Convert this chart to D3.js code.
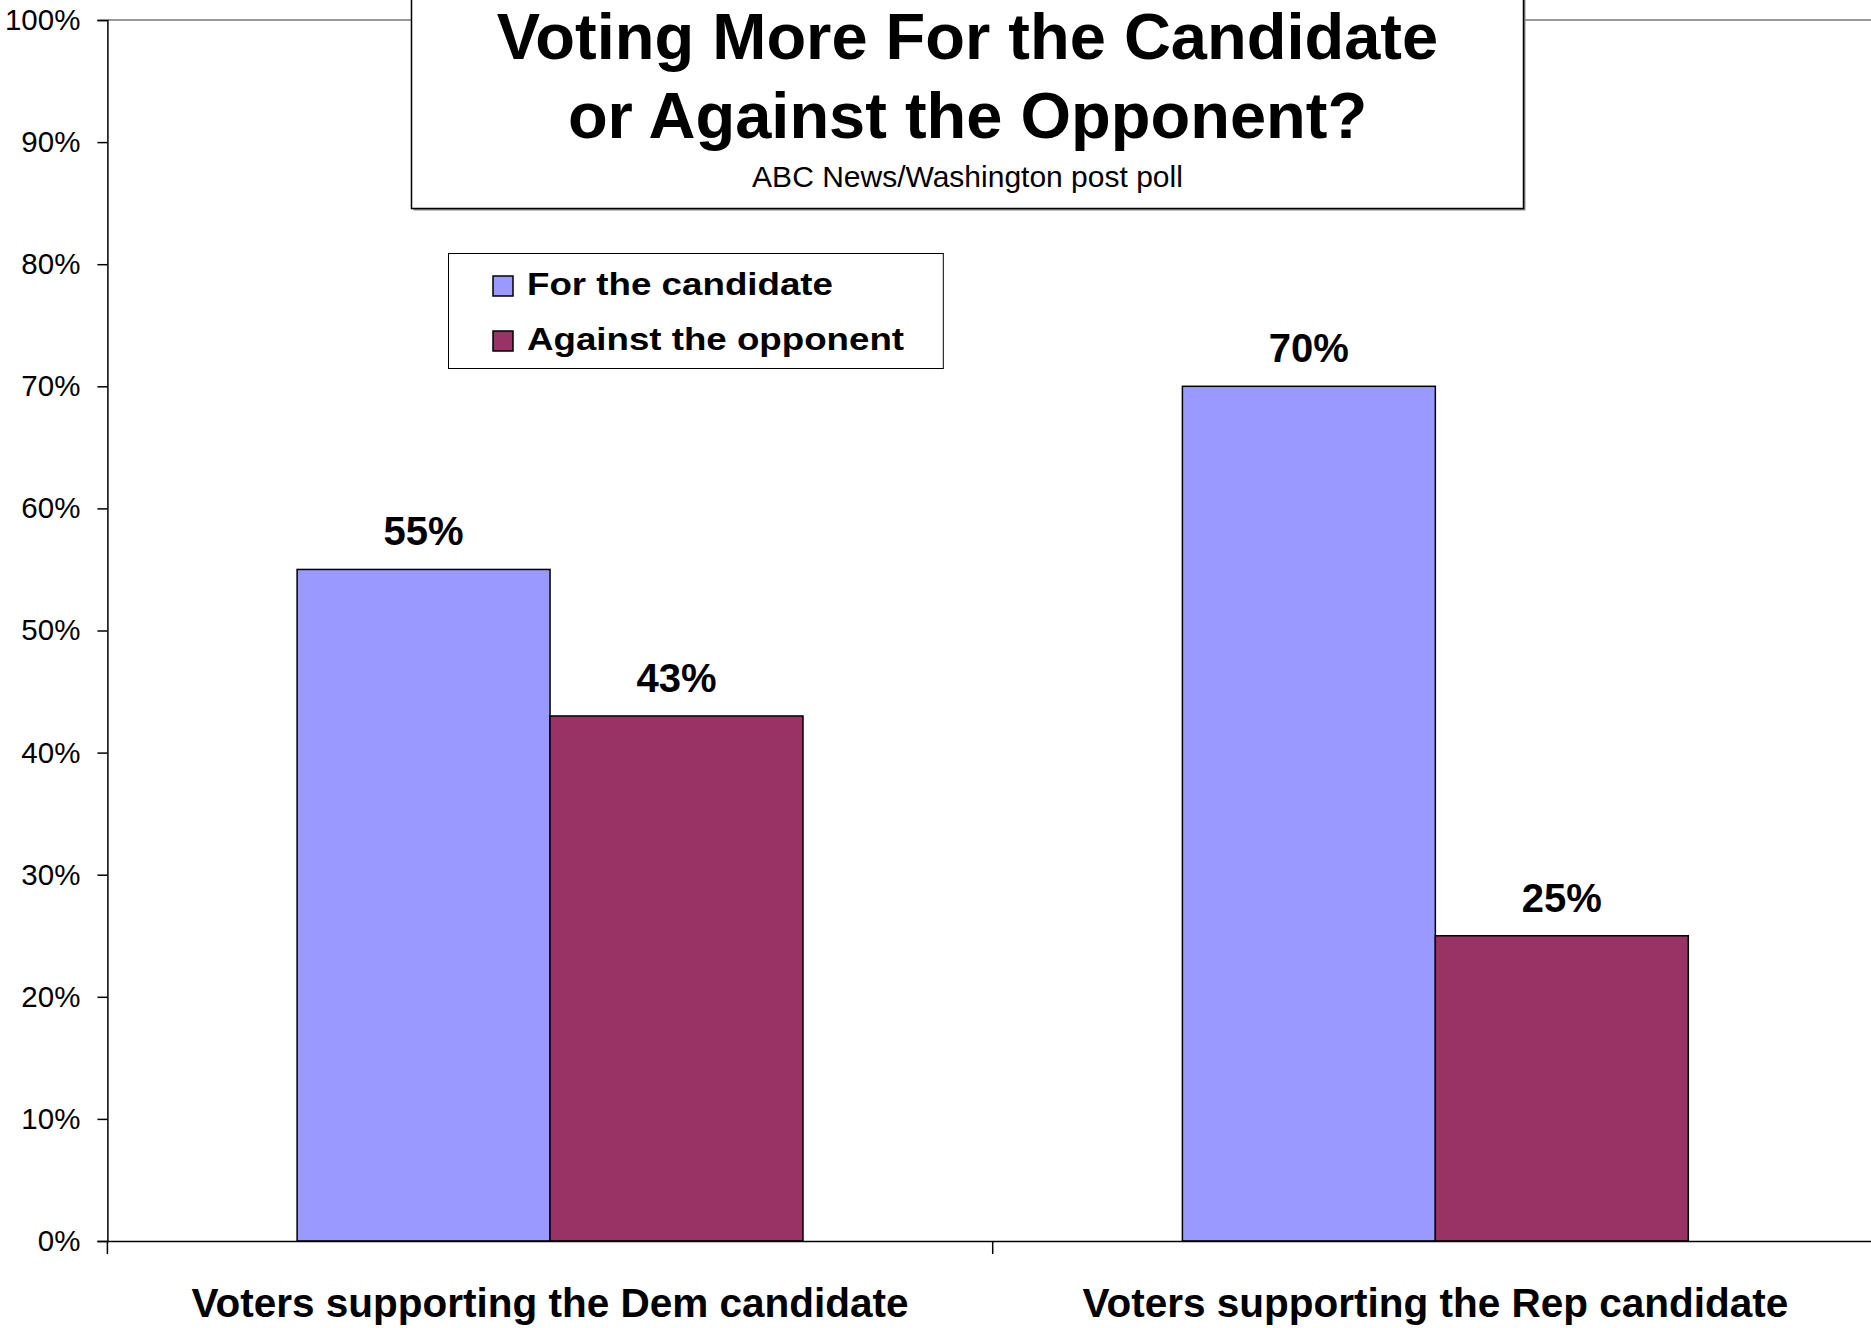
<!DOCTYPE html>
<html>
<head>
<meta charset="utf-8">
<script src="https://cdn.jsdelivr.net/npm/d3@7"></script>
<style>
  html, body { margin: 0; padding: 0; background: #fff; }
  svg { display: block; font-family: "Liberation Sans", Arial, sans-serif; }
</style>
</head>
<body>
<svg id="chart" width="1871" height="1328"></svg>
<script>
// ---- Data ----
const categories = ["Voters supporting the Dem candidate", "Voters supporting the Rep candidate"];
const seriesNames = ["For the candidate", "Against the opponent"];
const forValues = [0.55, 0.70];
const againstValues = [0.43, 0.25];
const yTickValues = [0, 0.1, 0.2, 0.3, 0.4, 0.5, 0.6, 0.7, 0.8, 0.9, 1.0];
const titleLines = ["Voting More For the Candidate", "or Against the Opponent?"];
const subtitle = "ABC News/Washington post poll";
const colors = ["#9999FF", "#993366"];

// ---- Layout ----
const svg = d3.select("#chart");
const plot = { left: 107.4, right: 1878, top: 20, bottom: 1241 };

const x0 = d3.scaleBand().domain(categories).range([plot.left, plot.right]).padding(0);
const x1 = d3.scaleBand().domain(seriesNames).range([0, x0.bandwidth()]).paddingInner(0).paddingOuter(0.75);
const y = d3.scaleLinear().domain([0, 1]).range([plot.bottom, plot.top]);

const rows = categories.map((c, i) => ({
  category: c,
  values: [
    { series: seriesNames[0], value: forValues[i], color: colors[0] },
    { series: seriesNames[1], value: againstValues[i], color: colors[1] }
  ]
}));

// plot area top border (gray)
svg.append("line")
  .attr("x1", plot.left).attr("x2", 1871)
  .attr("y1", y(1)).attr("y2", y(1))
  .attr("stroke", "#999").attr("stroke-width", 2);

// Bars
const groups = svg.selectAll("g.cat").data(rows).join("g")
  .attr("class", "cat")
  .attr("transform", d => `translate(${x0(d.category)},0)`);

groups.selectAll("rect").data(d => d.values).join("rect")
  .attr("x", d => x1(d.series))
  .attr("y", d => y(d.value))
  .attr("width", x1.bandwidth())
  .attr("height", d => y(0) - y(d.value))
  .attr("fill", d => d.color)
  .attr("stroke", "#000")
  .attr("stroke-width", 1.5);

groups.selectAll("text.val").data(d => d.values).join("text")
  .attr("class", "val")
  .attr("x", d => x1(d.series) + x1.bandwidth() / 2)
  .attr("y", d => y(d.value) - 24)
  .attr("text-anchor", "middle")
  .attr("font-size", 40)
  .attr("font-weight", "bold")
  .attr("fill", "#000")
  .text(d => d3.format(".0%")(d.value));

// Y axis
const yAxis = d3.axisLeft(y).tickValues(yTickValues).tickFormat(d3.format(".0%")).tickSize(10).tickPadding(17);
const gy = svg.append("g").attr("transform", `translate(${plot.left},0)`).call(yAxis);
gy.select(".domain").attr("stroke", "#000").attr("stroke-width", 1.5);
gy.selectAll(".tick line").attr("stroke", "#000").attr("stroke-width", 1.5);
gy.selectAll(".tick text")
  .attr("font-size", 29.5)
  .attr("font-family", "'Liberation Sans', Arial, sans-serif")
  .attr("fill", "#000");

// X axis (category boundaries ticks)
const xAxis = d3.axisBottom(x0).tickSize(0).tickFormat("");
const gx = svg.append("g").attr("transform", `translate(0,${plot.bottom})`).call(xAxis);
gx.select(".domain").attr("stroke", "#000").attr("stroke-width", 1.5);
const boundaries = categories.map(c => x0(c)).concat([x0.range()[1]]);
svg.selectAll("line.xtick").data(boundaries).join("line")
  .attr("class", "xtick")
  .attr("x1", d => d).attr("x2", d => d)
  .attr("y1", plot.bottom).attr("y2", plot.bottom + 13)
  .attr("stroke", "#000").attr("stroke-width", 1.5);
svg.selectAll("text.cat").data(categories).join("text")
  .attr("class", "cat")
  .attr("x", d => x0(d) + x0.bandwidth() / 2)
  .attr("y", 1317)
  .attr("text-anchor", "middle")
  .attr("font-size", 40.5)
  .attr("font-weight", "bold")
  .attr("fill", "#000")
  .text(d => d);

// Title box
const tb = { x: 411.5, y: -10, w: 1112, h: 218.5 };
svg.append("rect")
  .attr("x", tb.x + 2).attr("y", tb.y + 2).attr("width", tb.w).attr("height", tb.h)
  .attr("fill", "#888");
svg.append("rect")
  .attr("x", tb.x).attr("y", tb.y).attr("width", tb.w).attr("height", tb.h)
  .attr("fill", "#fff").attr("stroke", "#000").attr("stroke-width", 1.5);
const cx = tb.x + tb.w / 2;
svg.selectAll("text.title").data(titleLines).join("text")
  .attr("class", "title")
  .attr("x", cx)
  .attr("y", (d, i) => 59 + i * 79)
  .attr("text-anchor", "middle")
  .attr("font-size", 65)
  .attr("font-weight", "bold")
  .attr("fill", "#000")
  .text(d => d);
svg.append("text")
  .attr("x", cx).attr("y", 187)
  .attr("text-anchor", "middle")
  .attr("font-size", 30)
  .attr("fill", "#000")
  .text(subtitle);

// Legend
const lg = { x: 448.5, y: 253.5, w: 494.8, h: 115 };
svg.append("rect")
  .attr("x", lg.x).attr("y", lg.y).attr("width", lg.w).attr("height", lg.h)
  .attr("fill", "#fff").attr("stroke", "#000").attr("stroke-width", 1);
const legendWidths = [306, 377];
const li = svg.selectAll("g.leg").data(seriesNames).join("g")
  .attr("class", "leg")
  .attr("transform", (d, i) => `translate(0,${i * 55})`);
li.append("rect")
  .attr("x", 493).attr("y", 276)
  .attr("width", 20).attr("height", 20)
  .attr("fill", (d, i) => colors[i])
  .attr("stroke", "#000").attr("stroke-width", 1.5);
li.append("text")
  .attr("x", 527).attr("y", 295)
  .attr("font-size", 32)
  .attr("font-weight", "bold")
  .attr("fill", "#000")
  .attr("textLength", (d, i) => legendWidths[i])
  .attr("lengthAdjust", "spacingAndGlyphs")
  .text(d => d);
</script>
</body>
</html>
